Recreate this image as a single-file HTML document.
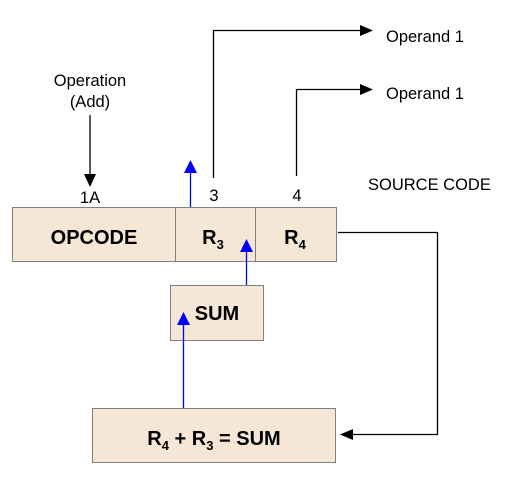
<!DOCTYPE html>
<html><head><style>
body{margin:0;background:#fff;}
svg text{font-family:"Liberation Sans",Arial,sans-serif;}
</style></head><body>
<svg width="505" height="472" viewBox="0 0 505 472" xmlns="http://www.w3.org/2000/svg">
<rect x="12.5" y="207.5" width="324" height="54" fill="#f5e6d5" stroke="#808080" stroke-width="1"/>
<line x1="175.5" y1="207" x2="175.5" y2="261" stroke="#808080"/>
<line x1="255.5" y1="207" x2="255.5" y2="261" stroke="#808080"/>
<rect x="170.5" y="285.5" width="93" height="55" fill="#f5e6d5" stroke="#808080"/>
<rect x="92.5" y="408.5" width="243" height="54" fill="#f5e6d5" stroke="#808080"/>
<g font-weight="bold" font-size="20" fill="#000" text-anchor="middle">
<text x="94" y="244">OPCODE</text>
<text x="213" y="244">R<tspan font-size="13" dy="5">3</tspan></text>
<text x="295" y="244">R<tspan font-size="13" dy="5">4</tspan></text>
<text x="217" y="320">SUM</text>
<text x="214" y="445">R<tspan font-size="13" dy="5">4</tspan><tspan dy="-5"> + R</tspan><tspan font-size="13" dy="5">3</tspan><tspan dy="-5"> = SUM</tspan></text>
</g>
<g font-size="16.5" fill="#000">
<text x="90" y="86" text-anchor="middle">Operation</text>
<text x="90" y="107" text-anchor="middle">(Add)</text>
<text x="90" y="203" text-anchor="middle">1A</text>
<text x="214" y="201" text-anchor="middle">3</text>
<text x="297" y="201" text-anchor="middle">4</text>
<text x="386" y="42">Operand 1</text>
<text x="386" y="99">Operand 1</text>
<text x="368" y="190">SOURCE CODE</text>
</g>
<g stroke="#000" stroke-width="1.3" fill="none">
<polyline points="90,115 90,176"/>
<polyline points="213.5,178 213.5,30.5 362,30.5"/>
<polyline points="296.5,176 296.5,89.5 362,89.5"/>
<polyline points="338,232.5 437.5,232.5 437.5,434.5 352,434.5"/>
</g>
<g fill="#000">
<polygon points="84,174 96,174 90,187"/>
<polygon points="360,25 360,36 373,30.5"/>
<polygon points="360,84 360,95 373,89.5"/>
<polygon points="353,429 353,440 340,434.5"/>
</g>
<g stroke="#0000ff" stroke-width="1.3">
<line x1="190.5" y1="207" x2="190.5" y2="170"/>
<line x1="246.5" y1="285" x2="246.5" y2="250"/>
<line x1="183.5" y1="408" x2="183.5" y2="323"/>
</g>
<g fill="#0000ff">
<polygon points="184,173 197,173 190.5,160"/>
<polygon points="240,252 253,252 246.5,239"/>
<polygon points="177,325 190,325 183.5,312"/>
</g>
</svg>
</body></html>
